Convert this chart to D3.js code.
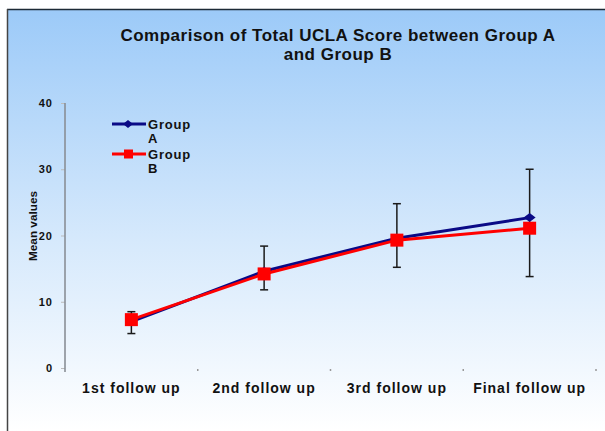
<!DOCTYPE html>
<html>
<head>
<meta charset="utf-8">
<script src="https://cdn.jsdelivr.net/npm/d3@7"></script>
<style>
	body { margin: 0; background: #fff; }
	text { font-family: 'Liberation Sans', Arial, sans-serif; font-weight: bold; fill: #111; }
</style>
</head>
<body>
<svg id="chart" width="605" height="431"></svg>
<script>
var categories = ['1st follow up', '2nd follow up', '3rd follow up', 'Final follow up'];
var groupA = [7.0, 14.6, 19.6, 22.7];
var groupB = [7.3, 14.2, 19.3, 21.1];
var errLow = [5.2, 11.8, 15.2, 13.8];
var errHigh = [8.5, 18.4, 24.8, 30.0];
var yTicks = [0, 10, 20, 30, 40];
var titleLines = ['Comparison of Total UCLA Score between Group A', 'and Group B'];

var svg = d3.select('#chart');

var x = d3.scaleBand().domain(categories).range([65, 596]);
var y = d3.scaleLinear().domain([0, 40]).range([368, 103]);

getX = function(i){
	return x(categories[i]) + x.bandwidth() / 2;
};

addBackground = function(){
	var grad = svg.append('defs').append('linearGradient')
		.attr('id', 'bg')
		.attr('x1', 0).attr('y1', 0).attr('x2', 0).attr('y2', 1);
	grad.append('stop').attr('offset', '0%').attr('stop-color', '#9ccaf8');
	grad.append('stop').attr('offset', '55%').attr('stop-color', '#d6e9fc');
	grad.append('stop').attr('offset', '100%').attr('stop-color', '#ffffff');

	svg.append('rect')
		.attr('x', 7).attr('y', 9)
		.attr('width', 598).attr('height', 422)
		.attr('fill', 'url(#bg)');
	svg.append('line')
		.attr('x1', 7).attr('x2', 605).attr('y1', 9.5).attr('y2', 9.5)
		.attr('stroke', '#1c2a36').attr('stroke-width', 1.5);
	svg.append('line')
		.attr('x1', 7.5).attr('x2', 7.5).attr('y1', 9).attr('y2', 431)
		.attr('stroke', '#444').attr('stroke-width', 1.5);
};

addTitle = function(){
	svg.append('g').selectAll('text')
		.data(titleLines)
		.enter()
		.append('text')
		.attr('x', 338)
		.attr('y', function(d, i) { return 41 + i * 19; })
		.attr('text-anchor', 'middle')
		.style('font-size', '17px')
		.style('letter-spacing', '0.5px')
		.text(function(d) { return d; });
};

addAxes = function(){
	var yAxis = svg.append('g')
		.attr('transform', 'translate(65,0)')
		.call(d3.axisLeft(y).tickValues(yTicks).tickSize(4).tickPadding(8));
	yAxis.select('.domain').remove();
	yAxis.selectAll('.tick line').attr('stroke', '#bbb');
	yAxis.selectAll('.tick text')
		.style('font-size', '11px')
		.style('letter-spacing', '1px')
		.attr('fill', '#111');
	svg.append('line')
		.attr('x1', 65).attr('x2', 65)
		.attr('y1', y(40)).attr('y2', y(0) + 4)
		.attr('stroke', '#8a8f96').attr('stroke-width', 1.6);

	var xAxis = svg.append('g')
		.attr('transform', 'translate(0,' + y(0) + ')')
		.call(d3.axisBottom(x).tickSize(0).tickPadding(15));
	xAxis.select('.domain').remove();
	xAxis.selectAll('.tick text')
		.style('font-size', '14px')
		.style('letter-spacing', '1px')
		.attr('fill', '#111');

	// little marks between the categories
	svg.append('g').selectAll('line')
		.data(categories.slice(1).concat(['end']))
		.enter()
		.append('line')
		.attr('x1', function(d, i) { return x(categories[i]) + x.bandwidth(); })
		.attr('x2', function(d, i) { return x(categories[i]) + x.bandwidth(); })
		.attr('y1', y(0) + 1).attr('y2', y(0) + 3)
		.attr('stroke', '#999').attr('stroke-width', 1.5);

	svg.append('text')
		.attr('transform', 'translate(37,' + 226 + ') rotate(-90)')
		.attr('text-anchor', 'middle')
		.attr('textLength', 70)
		.attr('lengthAdjust', 'spacingAndGlyphs')
		.style('font-size', '10px')
		.text('Mean values');
};

addLines = function(){
	var line = d3.line()
		.x(function(d, i) { return getX(i); })
		.y(function(d) { return y(d); });

	svg.append('path')
		.datum(groupA)
		.attr('d', line)
		.attr('fill', 'none')
		.attr('stroke', '#0a0a86')
		.attr('stroke-width', 3);
	svg.append('path')
		.datum(groupB)
		.attr('d', line)
		.attr('fill', 'none')
		.attr('stroke', '#ff0000')
		.attr('stroke-width', 3);
};

addErrorBars = function(){
	var g = svg.append('g').attr('stroke', '#1a1a1a').attr('stroke-width', 1.5);
	categories.forEach(function(c, i){
		var cx = getX(i);
		g.append('line')
			.attr('x1', cx).attr('x2', cx)
			.attr('y1', y(errLow[i])).attr('y2', y(errHigh[i]));
		g.append('line')
			.attr('x1', cx - 4).attr('x2', cx + 4)
			.attr('y1', y(errLow[i])).attr('y2', y(errLow[i]));
		g.append('line')
			.attr('x1', cx - 4).attr('x2', cx + 4)
			.attr('y1', y(errHigh[i])).attr('y2', y(errHigh[i]));
	});
};

addMarkers = function(){
	svg.append('g').selectAll('path')
		.data(groupA)
		.enter()
		.append('path')
		.attr('transform', function(d, i) { return 'translate(' + getX(i) + ',' + y(d) + ')'; })
		.attr('d', 'M-6,0L0,-4.5L6,0L0,4.5Z')
		.attr('fill', '#0a0a86');
	svg.append('g').selectAll('rect')
		.data(groupB)
		.enter()
		.append('rect')
		.attr('x', function(d, i) { return getX(i) - 6.5; })
		.attr('y', function(d) { return y(d) - 6.5; })
		.attr('width', 13).attr('height', 13)
		.attr('fill', '#ff0000');
};

addLegend = function(){
	var items = [
		{name: 'A', color: '#0a0a86', mark: 'diamond', y: 124},
		{name: 'B', color: '#ff0000', mark: 'square', y: 154}
	];
	var lg = svg.append('g').selectAll('g')
		.data(items)
		.enter()
		.append('g')
		.attr('transform', function(d) { return 'translate(0,' + d.y + ')'; });
	lg.append('line')
		.attr('x1', 112).attr('x2', 146)
		.attr('stroke', function(d) { return d.color; })
		.attr('stroke-width', 3);
	lg.filter(function(d) { return d.mark == 'diamond'; })
		.append('path')
		.attr('d', 'M123,0L128,-4L133,0L128,4Z')
		.attr('fill', function(d) { return d.color; });
	lg.filter(function(d) { return d.mark == 'square'; })
		.append('rect')
		.attr('x', 124).attr('y', -4.5)
		.attr('width', 9).attr('height', 9)
		.attr('fill', function(d) { return d.color; });
	lg.append('text')
		.attr('x', 148).attr('y', 5)
		.style('font-size', '13px')
		.style('letter-spacing', '0.8px')
		.text('Group');
	lg.append('text')
		.attr('x', 148).attr('y', 19)
		.style('font-size', '13px')
		.text(function(d) { return d.name; });
};

addBackground();
addTitle();
addAxes();
addLines();
addErrorBars();
addMarkers();
addLegend();
</script>
</body>
</html>
